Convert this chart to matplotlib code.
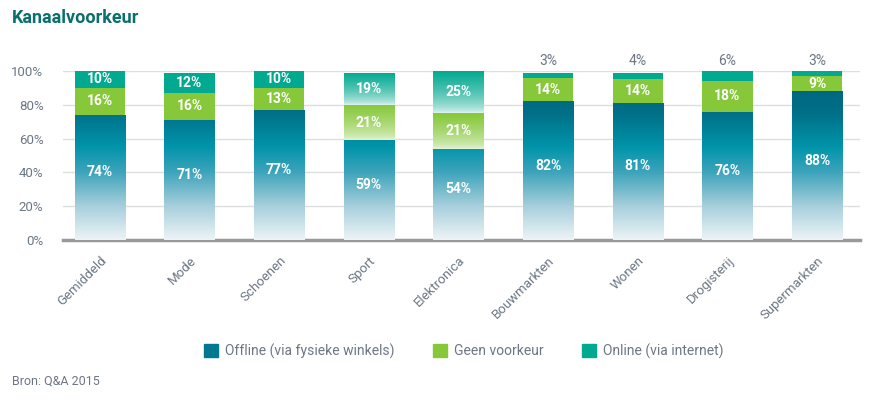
import numpy as np
import matplotlib.pyplot as plt
from matplotlib.colors import LinearSegmentedColormap
from matplotlib.patches import Patch

plt.rcParams['font.family'] = ['Roboto', 'DejaVu Sans']

categories = ["Gemiddeld", "Mode", "Schoenen", "Sport", "Elektronica",
              "Bouwmarkten", "Wonen", "Drogisterij", "Supermarkten"]
offline = [74, 71, 77, 59, 54, 82, 81, 76, 88]
geen = [16, 16, 13, 21, 21, 14, 14, 18, 9]
online = [10, 12, 10, 19, 25, 3, 4, 6, 3]
faded = ["Sport", "Elektronica"]  # segments that fade out towards the bottom

series_names = ["Offline (via fysieke winkels)", "Geen voorkeur", "Online (via internet)"]
c_off = "#007891"
c_geen = "#86c83a"
c_on = "#00a98f"
grey = "#6b7785"

off_cmap = LinearSegmentedColormap.from_list("off", [
    (0.0, "#edf4f7"), (0.2, "#a7cfdc"), (0.4, "#3da4bb"),
    (0.55, "#0094aa"), (0.75, "#007088"), (1.0, "#005f79")])
geen_cmap = LinearSegmentedColormap.from_list("geen", ["#eaf5dc", c_geen])
on_cmap = LinearSegmentedColormap.from_list("on", ["#eaf6f4", c_on])

fig = plt.figure(figsize=(8.75, 4.01), dpi=100)
ax = fig.add_axes([0.072, 0.4015, 0.911, 0.4215])

x = np.arange(len(categories))
w = 0.56
b_off = ax.bar(x, offline, w, color="none", edgecolor="none", zorder=3)
bottom2 = np.array(offline)
b_geen = ax.bar(x, geen, w, bottom=bottom2, color=c_geen, edgecolor="none", zorder=3)
bottom3 = bottom2 + np.array(geen)
b_on = ax.bar(x, online, w, bottom=bottom3, color=c_on, edgecolor="none", zorder=3)

# offline gradient fixed to the y axis
grad = np.linspace(0, 1, 256).reshape(-1, 1)
for r in b_off:
    x0 = r.get_x()
    im = ax.imshow(grad, cmap=off_cmap, aspect="auto", origin="lower",
                   extent=[x0, x0 + r.get_width(), 0, 100], zorder=3)
    im.set_clip_path(r)

# per-segment fades for the two categories
for i, cat in enumerate(categories):
    if cat not in faded:
        continue
    for r, cm in ((b_geen[i], geen_cmap), (b_on[i], on_cmap)):
        r.set_facecolor("none")
        x0, y0 = r.get_x(), r.get_y()
        im = ax.imshow(grad ** 0.6, cmap=cm, aspect="auto", origin="lower",
                       extent=[x0, x0 + r.get_width(), y0, y0 + r.get_height()],
                       zorder=3)
        im.set_clip_path(r)

lab = dict(color="white", fontsize=10, fontweight="bold", ha="center",
           va="center", zorder=5)
for i in range(len(categories)):
    ax.text(x[i], offline[i] / 2 + 3, f"{offline[i]}%", **lab)
    ax.text(x[i], offline[i] + geen[i] / 2, f"{geen[i]}%", **lab)
    if online[i] >= 8:
        ax.text(x[i], bottom3[i] + online[i] / 2, f"{online[i]}%", **lab)
    else:
        ax.text(x[i], 102, f"{online[i]}%", color=grey, fontsize=10,
                ha="center", va="bottom")

ax.set_xlim(-0.41, 8.48)
ax.set_ylim(0, 100)
ax.set_yticks([0, 20, 40, 60, 80, 100])
ax.set_yticklabels([f"{v}%" for v in [0, 20, 40, 60, 80, 100]])
ax.grid(axis="y", color="#dedede", linewidth=1, zorder=0)
ax.set_axisbelow(True)
for s in ["top", "right", "left"]:
    ax.spines[s].set_visible(False)
ax.spines["bottom"].set_color("#999999")
ax.spines["bottom"].set_linewidth(2.5)
ax.tick_params(axis="y", length=0, pad=14, labelcolor=grey, labelsize=9.5)
ax.tick_params(axis="x", length=0, pad=10, labelcolor=grey, labelsize=9.5)
ax.set_xticks(x)
ax.set_xticklabels(categories, rotation=45, ha="right", rotation_mode="anchor")

handles = [Patch(color=c_off), Patch(color=c_geen), Patch(color=c_on)]
fig.legend(handles, series_names, loc="center", bbox_to_anchor=(0.53, 0.125),
           ncol=3, frameon=False, fontsize=10, labelcolor=grey,
           handlelength=1.0, handleheight=1.0, handletextpad=0.5,
           columnspacing=2.8)

fig.text(0.014, 0.955, "Kanaalvoorkeur", color="#0b6f6c", fontsize=13,
         fontweight="bold", va="center")
fig.text(0.014, 0.05, "Bron: Q&A 2015", color=grey, fontsize=9, va="center")

fig.savefig("out.png", dpi=100)
